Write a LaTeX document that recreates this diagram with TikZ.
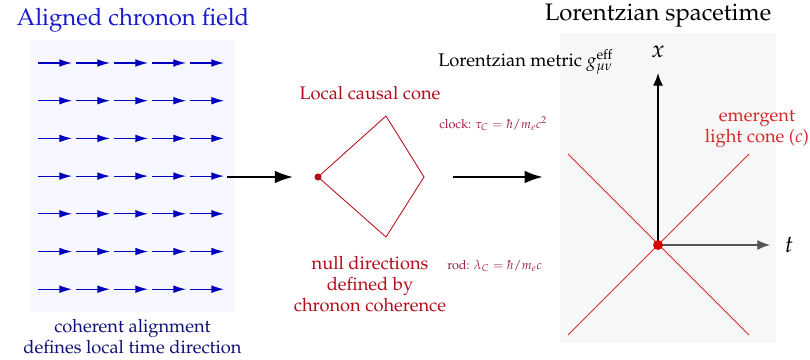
\documentclass[tikz,border=0pt]{standalone}
\usepackage[T1]{fontenc}
\usepackage{mathpazo}
\usepackage{tikz}
\usetikzlibrary{arrows.meta,positioning,fit,calc}

\definecolor{fieldbg}{RGB}{246,247,255}
\definecolor{chrononblue}{RGB}{0,0,190}
\definecolor{titleblue}{RGB}{25,25,205}
\definecolor{noteblue}{RGB}{15,15,120}
\definecolor{conered}{RGB}{180,10,25}
\definecolor{unitred}{RGB}{160,30,75}
\definecolor{spacebg}{RGB}{247,247,247}
\definecolor{lightred}{RGB}{215,40,40}
\definecolor{dotred}{RGB}{215,0,0}
\definecolor{axisgray}{RGB}{85,85,85}

\tikzset{
    % Panel backgrounds
    panel/.style={
        rectangle,
        draw=none,
        inner sep=0pt
    },
    % Big titles
    paneltitle/.style={
        font=\fontsize{17}{20}\selectfont
    },
    % Ordinary labels
    label13/.style={
        font=\fontsize{13}{15}\selectfont,
        align=center,
        inner sep=1pt
    },
    % Small unit labels
    unitlabel/.style={
        font=\fontsize{9}{11}\selectfont,
        text=unitred,
        anchor=west,
        inner sep=0pt
    },
    % Chronon arrow
    chronon/.style={
        -{Latex[length=9pt,width=5.5pt]},
        line width=0.8pt,
        draw=chrononblue
    },
    % Flow arrow between stages
    flowarrow/.style={
        -{Latex[length=13pt,width=9pt]},
        line width=1.5pt,
        draw=black
    },
    % Axis arrow
    axis/.style={
        -{Latex[length=9pt,width=7pt]},
        line width=0.8pt
    },
    % Event dot
    event/.style={
        circle,
        inner sep=0pt,
        fill=#1
    }
}

\begin{document}
\begin{tikzpicture}[x=0.025cm,y=-0.025cm]

    \useasboundingbox (0,0) rectangle (810,360);

    % ========== CHRONON FIELD ==========
    \node[panel, fill=fieldbg, fit={(30,40) (235,312)}] (field) {};
    \node[paneltitle, text=titleblue] (fieldtitle) at (133,20) {Aligned chronon field};
    \foreach \row in {0,...,6} {
        \foreach \col in {0,...,4} {
            \draw[chronon] ({38+38*\col},{63+37.7*\row}) -- ++(34,0);
        }
    }
    \node[label13, text=noteblue, below=3.5pt of field] (fieldnote) {coherent alignment\\defines local time direction};

    % ========== LORENTZIAN SPACETIME (background) ==========
    \node[panel, fill=spacebg, fit={(560,33) (776,343)}] (spacetime) {};
    \node[paneltitle] (spacetitle) at (658,16) {Lorentzian spacetime};

    % ========== LOCAL CAUSAL CONE ==========
    \node[event=conered, minimum size=5pt] (apex) at (318,177) {};
    \coordinate (conetop) at (386,116);
    \coordinate (coneright) at (424,177);
    \coordinate (conebottom) at (386,237);
    \draw[conered, line width=0.6pt] (apex.center) -- (conetop) -- (coneright) -- (conebottom) -- cycle;
    \node[label13, text=conered] (conetitle) at (370,93) {Local causal cone};
    \node[label13, text=conered] (conenote) at (370,284) {null directions\\defined by\\chronon coherence};

    % ========== UNITS ==========
    \node[unitlabel] (clock) at (439,124) {clock: $\tau_C = \hbar/m_e c^2$};
    \node[unitlabel] (rod) at (447,266) {rod: $\lambda_C = \hbar/m_e c$};
    \node[label13, anchor=west, inner sep=0pt] (metric) at (438,62) {Lorentzian metric $g^{\mathrm{eff}}_{\mu\nu}$};

    % ========== LIGHT CONE AND AXES ==========
    \coordinate (origin) at (658,245);
    \draw[lightred, line width=0.7pt] ($(origin)+(-90,-91)$) -- ($(origin)+(91,90)$);
    \draw[lightred, line width=0.7pt] ($(origin)+(-90,90)$) -- ($(origin)+(91,-91)$);
    \node[label13, text=lightred] (lightcone) at (757,129) {emergent\\light cone ($c$)};
    \coordinate (xtip) at (658,73);
    \coordinate (ttip) at (770,245);
    \draw[axis, black] (origin) -- (xtip);
    \draw[axis, axisgray] (origin) -- (ttip);
    \node[font=\fontsize{17}{20}\selectfont] (xlabel) at (658,52) {$x$};
    \node[font=\fontsize{17}{20}\selectfont] (tlabel) at (789,245) {$t$};
    \node[event=dotred, minimum size=7pt] (eventdot) at (origin) {};

    % ========== CONNECTIONS ==========
    \coordinate (fieldout) at (227,177);
    \draw[flowarrow, shorten >=17.7pt] (fieldout) -- (apex.center);
    \draw[flowarrow, shorten <=20.5pt, shorten >=12pt] (coneright) -- (coneright -| spacetime.west);

\end{tikzpicture}
\end{document}
